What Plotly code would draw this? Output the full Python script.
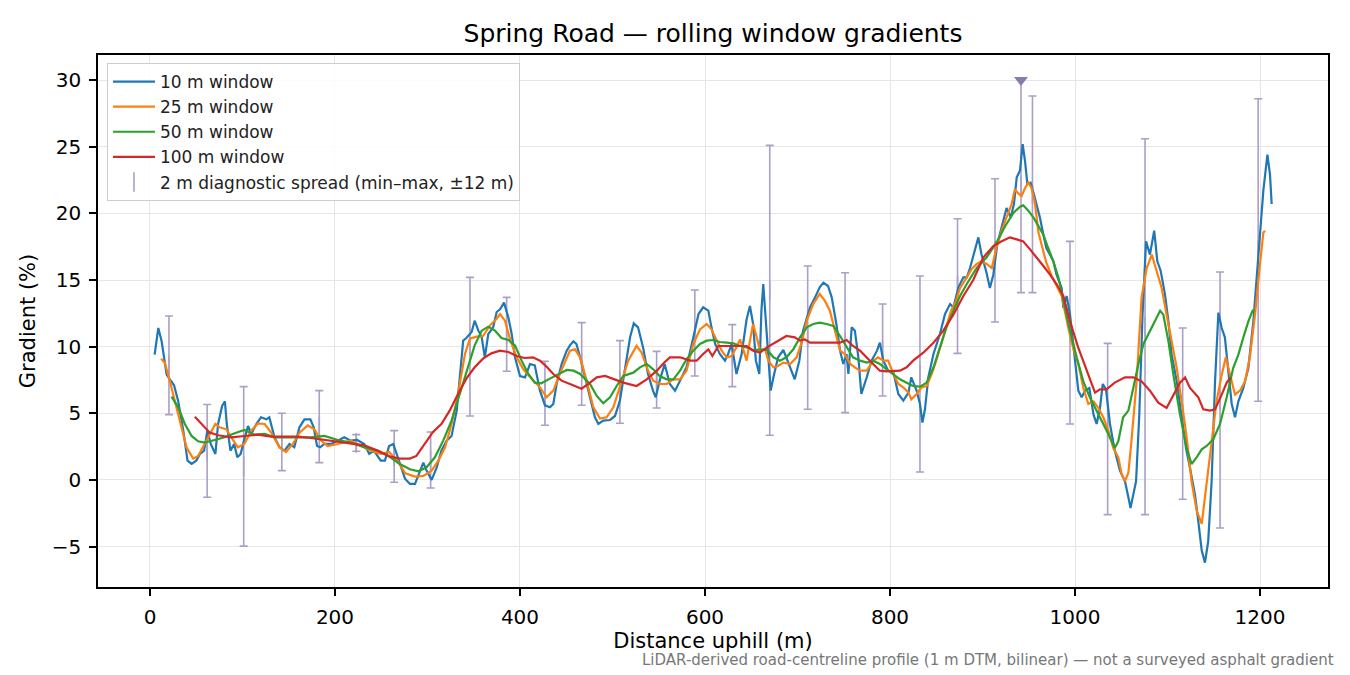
import plotly.graph_objects as go

# distance uphill (m) and gradient (%) for each rolling window
dist10 = [5, 9, 12.6, 16, 18, 21.5, 26, 30.5, 36, 40.6, 45, 50, 54, 58.5, 62, 65.7, 70.7, 73.6, 78, 81,
          83, 87, 91, 94.4, 98, 101.6, 106, 109.5, 115, 120, 125.7, 129, 134.6, 140, 145.4, 150.8, 156, 161.6, 167, 173.4,
          177, 180.6, 184, 188.5, 195.7, 203, 210, 217, 224, 231.6, 237, 242, 249.5, 254, 258.5, 263, 267.5, 270.3, 275.7, 281,
          286.5, 292, 295.5, 299, 304.5, 310, 315, 320.7, 326, 331.6, 335, 338.6, 342, 347.7, 351, 355, 358.6, 362, 365.7, 371,
          374.8, 378.4, 382.7, 387.4, 391, 394.6, 400, 405.4, 410.8, 416, 421.6, 427, 432.4, 436, 439.6, 445, 450.5, 454, 457.7, 461,
          465, 470.3, 475.7, 481, 484.7, 490, 497.3, 502.7, 508, 513.5, 519, 523, 527.6, 533, 538.4, 543.8, 546.7, 551, 556.4, 562,
          567.6, 573, 580, 587.4, 593, 598, 603.6, 607, 611, 616, 621.6, 625, 628.8, 634, 639.6, 645, 648.6, 652, 655, 658.7,
          661, 663, 666, 668.5, 671, 674, 679, 684.7, 688, 692, 697, 702, 706, 710, 713.5, 719, 724, 728, 733, 737,
          742, 746, 749.5, 753, 755, 758.6, 762, 765.8, 769, 774.8, 780, 786, 789, 792.8, 798, 803.6, 809, 814.4, 820, 823,
          828.8, 832.4, 835, 837.8, 841.4, 847, 854, 859.5, 865, 868.5, 874, 879.3, 883, 886.5, 892, 895.5, 899, 903.8, 908, 911.7,
          916, 920.7, 926, 930.5, 934, 937, 940.5, 943.4, 946, 948.5, 952, 955.7, 958.6, 962, 965.8, 969, 973, 976.6, 980, 985.6,
          987.4, 991, 994.6, 998, 1001, 1003.6, 1007.2, 1010.8, 1015.5, 1020, 1023.4, 1027, 1030, 1033.5, 1037.8, 1043, 1048.6, 1054, 1057.7, 1060,
          1063, 1066, 1069.5, 1073, 1076.8, 1081, 1085.6, 1089, 1092.6, 1097.3, 1101, 1104.5, 1110, 1115.3, 1120, 1124.3, 1129.7, 1133.3, 1137, 1140.5,
          1144, 1147.7, 1151.4, 1155, 1158.6, 1162, 1165.8, 1169.4, 1173, 1176.6, 1182, 1187.4, 1192.8, 1198, 1203.6, 1208, 1210.8, 1212.6]
grad10 = [9.4, 11.4, 10.4, 8.7, 7.9, 7.55, 7.1, 5.9, 3.7, 1.45, 1.2, 1.45, 1.95, 2.2, 3.7, 2.7, 1.95, 4.2, 5.55, 5.9,
          4.2, 2.2, 2.7, 1.7, 1.95, 2.95, 4.05, 3.45, 4.2, 4.7, 4.55, 4.7, 3.2, 2.45, 2.2, 2.7, 2.45, 3.95, 4.55, 4.55,
          3.95, 2.55, 2.45, 2.7, 2.7, 2.95, 3.2, 2.95, 3.0, 2.7, 1.95, 2.2, 1.45, 1.45, 2.55, 2.7, 1.7, 1.2, 0.1, -0.3,
          -0.3, 0.6, 1.3, 0.7, 0.0, 0.95, 2.2, 2.95, 3.3, 5.2, 7.7, 10.45, 10.65, 11.1, 11.95, 11.2, 10.7, 9.2, 10.95, 11.45,
          12.6, 12.8, 13.3, 12.2, 10.95, 9.2, 7.8, 7.7, 8.7, 8.6, 6.7, 5.6, 5.45, 5.7, 7.2, 8.7, 9.7, 10.1, 10.4, 10.2,
          9.2, 7.7, 6.2, 4.7, 4.2, 4.45, 4.5, 4.8, 5.95, 8.2, 10.7, 11.75, 11.45, 9.95, 7.95, 6.7, 6.2, 7.45, 8.7, 7.2,
          6.7, 7.45, 8.45, 10.7, 12.45, 12.95, 12.7, 11.45, 10.2, 9.45, 8.95, 9.45, 10.2, 7.95, 9.45, 12.05, 13.05, 11.7, 8.95, 7.95,
          12.7, 14.7, 11.45, 8.95, 6.7, 7.7, 9.2, 9.75, 9.2, 8.45, 7.55, 8.95, 11.2, 12.2, 12.95, 13.7, 14.45, 14.8, 14.55, 13.7,
          11.7, 9.7, 8.7, 9.45, 7.95, 11.45, 11.2, 9.2, 6.45, 7.7, 8.95, 9.7, 10.3, 8.95, 8.2, 8.1, 6.45, 5.95, 6.55, 7.7,
          6.7, 5.7, 4.3, 5.3, 7.7, 9.45, 10.95, 12.45, 13.2, 12.95, 14.45, 15.2, 15.2, 15.9, 17.4, 18.2, 16.9, 15.7, 14.4, 15.4,
          17.7, 18.9, 20.4, 19.7, 20.7, 22.7, 23.2, 25.2, 23.9, 22.2, 22.3, 21.4, 20.7, 19.7, 18.4, 17.4, 16.9, 16.4, 15.4, 14.4,
          12.9, 13.8, 12.4, 10.4, 8.2, 6.7, 6.2, 6.7, 6.9, 4.9, 4.2, 5.4, 7.2, 6.8, 4.2, 2.2, 0.7, -0.1, -1.3, -2.1,
          -1.1, -0.1, 4.9, 12.4, 17.9, 16.9, 18.7, 16.4, 15.7, 13.9, 11.9, 9.4, 7.4, 4.9, 2.4, 0.9, -1.1, -3.1, -5.3, -6.2,
          -4.6, -0.1, 7.4, 12.55, 11.4, 10.7, 8.2, 5.7, 4.7, 5.9, 6.9, 8.4, 11.9, 16.7, 21.7, 24.4, 22.9, 20.7]

dist25 = [12, 16, 21.5, 27, 34, 39.5, 46.7, 52, 59, 64.6, 70.7, 75.4, 82.6, 88, 95, 102, 109.5, 116.7, 124, 131,
          140, 147, 154.4, 161.6, 170.5, 177.7, 185, 192, 203, 217, 228, 238.8, 249.5, 258.5, 267.5, 276, 286.5, 295.5, 304.5, 311.7,
          319, 326, 333, 340.5, 345.9, 353, 360, 367.6, 374.8, 378.4, 383.8, 389, 396.4, 403.6, 412.6, 421.6, 428.8, 436, 443, 450.5,
          454, 459.5, 465, 472, 479.3, 486.5, 493.7, 500.9, 508, 517, 526, 531.5, 538.4, 544, 551, 558.6, 565.8, 573, 580, 587.4,
          594.6, 601.8, 607, 612.6, 618, 623.4, 628.8, 634, 637.8, 641.4, 645, 648.6, 652, 655.9, 659.5, 665, 668.5, 674, 679, 684.7,
          692, 699, 704.5, 710, 717, 724, 729.5, 735, 740.5, 746, 751, 757, 762, 767.6, 774.8, 782, 787, 792.8, 798, 803.6,
          809, 814.4, 820, 823, 828.8, 834, 839.6, 845, 850, 855.5, 861, 866, 871.5, 875.7, 883, 888, 893.7, 899, 904.5, 910,
          915, 920.7, 926, 931.5, 935, 938.7, 942.3, 946, 949.5, 953, 956.8, 960.4, 964, 969, 974.8, 980, 985.6, 992.8, 998, 1003.6,
          1009, 1014.4, 1020, 1025.2, 1030.6, 1036, 1041.4, 1046.8, 1050.5, 1054, 1057.7, 1061, 1066.6, 1072, 1077.5, 1083, 1088, 1093.7, 1099, 1104.5,
          1110, 1115.3, 1120.7, 1126, 1131.5, 1137, 1142.3, 1147.7, 1153, 1158.6, 1163, 1167.6, 1173, 1178.4, 1183.8, 1189, 1194.6, 1200, 1203.6, 1205.4]
grad25 = [9.1, 8.8, 7.4, 5.9, 3.95, 2.45, 1.6, 1.8, 2.7, 3.45, 4.2, 3.95, 3.8, 3.2, 2.45, 2.7, 3.7, 4.25, 4.2, 3.55,
          2.45, 2.1, 2.7, 3.55, 4.1, 3.8, 2.95, 2.55, 2.7, 2.95, 2.55, 2.2, 1.95, 2.1, 1.45, 0.5, 0.25, 0.3, 0.7, 1.45,
          2.45, 4.2, 6.45, 9.45, 10.6, 10.75, 10.8, 11.6, 12.1, 12.45, 11.95, 10.6, 9.2, 8.3, 7.6, 6.95, 6.2, 6.7, 7.95, 9.2,
          9.7, 9.8, 9.2, 7.45, 5.45, 4.6, 4.7, 5.45, 6.95, 8.95, 10.06, 9.55, 8.2, 7.45, 7.2, 7.2, 7.55, 7.55, 8.2, 10.2,
          11.3, 11.7, 11.3, 10.45, 9.7, 9.2, 9.3, 9.95, 10.55, 9.8, 8.95, 10.45, 11.7, 10.7, 9.7, 9.8, 8.95, 8.45, 8.55, 8.8,
          8.7, 9.2, 10.3, 11.95, 13.2, 13.95, 13.45, 12.7, 11.2, 9.7, 9.45, 8.7, 8.45, 8.2, 8.2, 8.95, 9.2, 8.95, 8.95, 7.95,
          7.2, 6.95, 6.55, 6.05, 6.45, 6.95, 7.05, 7.95, 8.95, 10.2, 11.45, 12.7, 13.45, 14.4, 15.2, 15.8, 16.2, 16.4, 16.2, 15.9,
          17.4, 18.7, 19.7, 20.7, 21.8, 21.5, 21.3, 21.9, 22.3, 21.9, 20.7, 18.6, 17.6, 16.3, 15.3, 14.6, 13.8, 11.4, 9.9, 8.7,
          6.9, 5.7, 5.9, 5.4, 4.7, 3.7, 2.4, 1.7, 0.4, -0.1, 0.55, 2.9, 7.4, 13.7, 15.9, 16.9, 15.7, 14.4, 12.4, 10.4,
          8.4, 5.9, 3.2, -0.1, -2.3, -3.3, -0.1, 2.9, 5.9, 7.9, 9.2, 7.9, 6.4, 6.7, 7.4, 9.2, 12.4, 16.2, 18.55, 18.7]

dist50 = [23.3, 30.5, 37.7, 45, 52, 59, 70, 80.8, 91.6, 102, 113, 124, 134.6, 145.4, 160, 174, 188.5, 203, 217, 231.6,
          246, 260, 270, 281, 290, 299, 308, 317, 326, 335, 344, 351, 358.6, 365.7, 373, 380, 387.4, 394.6, 401.8, 409,
          416, 423, 432.4, 441.4, 450.5, 458, 465, 475.7, 483, 490, 497.3, 504.5, 511.7, 522.5, 529.7, 537, 544, 551, 558.6, 565.8,
          573, 580, 587.4, 594.6, 601.8, 609, 616, 623.4, 630.6, 637.8, 645, 652, 659.5, 666.6, 674, 681, 688, 695.5, 702.7, 710,
          717, 724, 731.5, 738.7, 746, 753, 760, 767.6, 774.8, 782, 789, 796.4, 803.6, 810.8, 818, 825, 832.4, 839.6, 847, 854,
          861, 868.5, 875.7, 883, 893.7, 904.5, 915, 924.6, 933.6, 940.5, 944, 949.5, 955, 960.4, 965.8, 971, 976.6, 982, 987.4, 994.6,
          1001.8, 1009, 1016, 1023.4, 1030.6, 1037.8, 1043, 1046.8, 1052, 1057.7, 1063, 1068.5, 1074, 1081, 1086.5, 1092, 1095.5, 1101, 1106.3, 1113.5,
          1120.7, 1126, 1131.5, 1137, 1142.3, 1149.5, 1156.8, 1164, 1171, 1176.6, 1182, 1187.4, 1192, 1194.6]
grad50 = [6.25, 5.45, 4.2, 3.3, 2.9, 2.8, 3.0, 3.2, 3.5, 3.75, 3.4, 3.45, 3.2, 3.2, 3.2, 3.2, 3.3, 3.0, 2.8, 2.45,
          2.2, 1.7, 1.2, 0.8, 0.65, 0.95, 1.7, 2.95, 4.45, 6.45, 8.45, 10.1, 11.2, 11.5, 11.2, 10.65, 10.5, 10.1, 8.95, 7.95,
          7.3, 7.25, 7.6, 7.9, 8.25, 8.2, 7.95, 7.2, 6.3, 5.75, 6.2, 7.05, 7.8, 8.05, 8.45, 8.7, 8.3, 7.8, 7.55, 7.55,
          8.2, 9.05, 9.7, 10.2, 10.45, 10.5, 10.35, 10.3, 10.25, 10.05, 9.95, 9.75, 9.8, 9.8, 9.2, 8.95, 9.2, 9.8, 10.7, 11.45,
          11.7, 11.8, 11.7, 11.55, 10.8, 9.95, 9.2, 8.95, 8.8, 8.95, 8.7, 8.3, 7.95, 7.55, 7.3, 7.05, 7.0, 7.3, 8.45, 9.95,
          11.45, 12.7, 13.8, 14.7, 15.9, 16.7, 17.8, 19.05, 20.05, 20.5, 20.6, 20.2, 19.7, 19.05, 18.4, 17.4, 16.4, 15.2, 13.5, 11.2,
          9.2, 7.4, 6.2, 5.2, 4.2, 3.2, 2.4, 2.9, 4.7, 5.2, 6.9, 8.7, 10.2, 11.2, 11.9, 12.7, 12.4, 10.4, 7.9, 4.9,
          2.4, 1.2, 1.7, 2.3, 2.55, 3.05, 4.2, 6.2, 8.4, 9.4, 10.7, 11.9, 12.7, 12.7]

dist100 = [48.5, 55.6, 64.6, 73.6, 88, 102, 116.7, 131, 145.4, 160, 174, 188.5, 203, 217, 231.6, 246, 260, 270, 281, 288,
           297, 306, 315, 324, 333, 342, 351, 360, 369, 378.4, 387.4, 396.4, 405, 414, 421.6, 428.8, 436, 445, 454, 466.6,
           475.7, 483, 492, 500.9, 511.7, 526, 537, 548, 555.7, 562, 573, 584, 591, 598, 603.6, 608, 614.4, 623.4, 634, 645,
           652, 659.5, 667, 681, 688, 697, 702.7, 708, 713.5, 724, 735, 746, 753, 760, 767.6, 774.8, 782, 789, 796.4, 803.6,
           810.8, 818, 825, 836, 847, 857.7, 868.5, 879.3, 890, 901, 911.7, 920.7, 929.7, 937, 944, 951.4, 958.6, 965.8, 973, 980,
           987.4, 994.6, 1003.6, 1012.6, 1021.6, 1027, 1034, 1043, 1054, 1063, 1072, 1081, 1090, 1099, 1106.3, 1113.5, 1119, 1124.3, 1133.3, 1138.7,
           1146, 1151.4, 1158.6, 1164, 1168.3]
grad100 = [4.75, 4.2, 3.55, 3.35, 3.2, 3.3, 3.4, 3.25, 3.25, 3.25, 3.15, 3.0, 2.85, 2.75, 2.6, 2.2, 1.75, 1.6, 1.6, 1.8,
           2.7, 3.6, 4.2, 5.2, 6.45, 7.6, 8.45, 9.1, 9.5, 9.7, 9.6, 9.3, 9.15, 9.2, 8.95, 8.5, 7.95, 7.45, 7.2, 6.85,
           7.3, 7.7, 7.8, 7.55, 7.3, 7.05, 7.55, 8.2, 8.8, 9.2, 9.2, 8.95, 8.95, 9.45, 9.8, 9.3, 10.05, 10.05, 10.05, 10.05,
           9.7, 9.55, 9.95, 10.5, 10.8, 10.7, 10.45, 10.55, 10.3, 10.3, 10.3, 10.3, 10.5, 10.05, 9.7, 9.2, 8.7, 8.2, 8.15, 8.15,
           8.2, 8.45, 8.95, 9.55, 10.3, 11.2, 12.4, 13.8, 15.0, 16.7, 17.55, 17.9, 18.2, 18.05, 17.9, 17.3, 16.7, 16.05, 15.4, 14.7,
           13.8, 11.9, 9.9, 8.2, 6.55, 6.8, 6.8, 7.3, 7.7, 7.7, 7.4, 6.7, 5.8, 5.4, 6.3, 7.3, 7.7, 6.9, 6.2, 5.3,
           5.2, 5.3, 6.4, 7.3, 7.7]

# 2 m diagnostic spread, min and max within +-12 m of each sample point
spreadX = [20.5, 61.8, 101.3, 142.5, 183, 223, 264, 303.4, 345.9, 385.6, 427, 466.7, 508, 547.7, 589, 629.5,
           670, 711, 751.4, 792, 832.4, 873, 913.5, 941.6, 954, 994.6, 1035.3, 1075.7, 1116.4, 1156.8, 1198]
spreadMin = [4.9, -1.3, -4.96, 0.7, 1.3, 2.15, -0.17, -0.6, 4.8, 8.15, 4.1, 5.6, 4.25, 5.4, 7.8, 7.0,
             3.35, 5.3, 5.05, 6.3, 0.6, 9.5, 11.85, 14.05, 14.05, 4.2, -2.6, -2.6, -1.45, -3.6, 5.9]
spreadMax = [12.3, 5.66, 7.0, 5.0, 6.7, 3.4, 3.7, 3.6, 15.2, 13.7, 8.9, 11.8, 10.45, 9.65, 14.25, 11.65,
             25.1, 16.05, 15.55, 13.2, 15.3, 19.6, 22.6, 30.0, 28.8, 17.9, 10.25, 25.6, 11.4, 15.6, 28.6]

# steepest point of the 10 m profile
peakX = [941.6]
peakY = [30.0]

series = [
    ('10 m window', dist10, grad10, '#1f77b4'),
    ('25 m window', dist25, grad25, '#ff7f0e'),
    ('50 m window', dist50, grad50, '#2ca02c'),
    ('100 m window', dist100, grad100, '#d62728'),
]

barColor = '#ab9fc8'
font = 'DejaVu Sans'

fig = go.Figure()

mid = [(lo + hi) / 2 for lo, hi in zip(spreadMin, spreadMax)]
half = [(hi - lo) / 2 for lo, hi in zip(spreadMin, spreadMax)]
fig.add_trace(go.Scatter(
    x=spreadX, y=mid, mode='markers',
    name='2 m diagnostic spread (min–max, ±12 m)',
    marker=dict(symbol='line-ns-open', size=14, color=barColor, line=dict(color=barColor, width=1.6)),
    error_y=dict(type='data', array=half, symmetric=True, color=barColor, thickness=1.6, width=4),
    legendrank=5,
))

for i, (name, xs, ys, color) in enumerate(series):
    fig.add_trace(go.Scatter(x=xs, y=ys, mode='lines', name=name,
                             line=dict(color=color, width=2.2), legendrank=i + 1))

fig.add_trace(go.Scatter(x=peakX, y=peakY, mode='markers', showlegend=False,
                         marker=dict(symbol='triangle-down', size=12, color='#8a7ab2')))

axisStyle = dict(
    showline=True, linecolor='black', linewidth=1.5, mirror=True,
    ticks='outside', ticklen=7, tickwidth=1.5, tickcolor='black',
    showgrid=True, gridcolor='#e6e6e6', gridwidth=1.4, zeroline=False,
    tickfont=dict(size=20, color='black', family=font),
)

fig.update_xaxes(range=[-56.2, 1273.5], dtick=200, tick0=0, ticklabelstandoff=4,
                 title=dict(text='Distance uphill (m)', font=dict(size=21, color='black', family=font), standoff=6),
                 **axisStyle)
fig.update_yaxes(range=[-8.03, 31.88], dtick=5, tick0=0, ticklabelstandoff=4,
                 title=dict(text='Gradient (%)', font=dict(size=21, color='black', family=font), standoff=10),
                 **axisStyle)

fig.add_annotation(
    text='LiDAR-derived road-centreline profile (1 m DTM, bilinear) — not a surveyed asphalt gradient',
    xref='paper', yref='paper', x=1.0065, y=-0.137, xanchor='right', yanchor='middle',
    showarrow=False, font=dict(size=15, color='#777777', family=font),
)

# the page adds an 8 px body margin, so the figure is 8 px smaller and margins shifted
fig.update_layout(
    width=1342, height=667,
    margin=dict(l=90, r=22, t=47, b=88),
    template='simple_white',
    plot_bgcolor='white', paper_bgcolor='white',
    font=dict(family=font, color='black'),
    title=dict(text='Spring Road — rolling window gradients', x=0.5, xref='paper',
               y=0.9625, yanchor='middle', font=dict(size=25, color='black', family=font)),
    legend=dict(x=0.0073, y=0.985, xanchor='left', yanchor='top', itemwidth=42,
                bgcolor='rgba(255,255,255,0.85)', bordercolor='#cccccc', borderwidth=1,
                font=dict(size=17, color='#222222', family=font), tracegroupgap=0),
    showlegend=True,
)

fig.write_html('out.html')
